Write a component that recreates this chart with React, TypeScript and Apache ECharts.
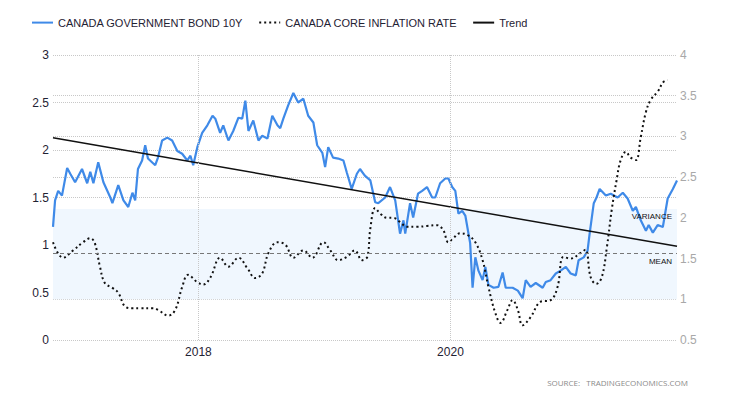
import React, { useEffect, useRef } from "react";
import * as echarts from "echarts";

const bondDates = [
  "2016-11-06", "2016-11-12", "2016-11-21", "2016-12-02", "2016-12-17", "2016-12-26",
  "2017-01-09", "2017-01-29", "2017-02-13", "2017-02-22", "2017-03-03", "2017-03-17",
  "2017-04-01", "2017-04-21", "2017-04-27", "2017-05-14", "2017-05-29", "2017-06-12",
  "2017-06-24", "2017-07-02", "2017-07-10", "2017-07-22", "2017-07-31", "2017-08-08",
  "2017-08-29", "2017-09-06", "2017-09-18", "2017-10-03", "2017-10-17", "2017-11-01",
  "2017-11-15", "2017-11-30", "2017-12-09", "2017-12-17", "2017-12-29", "2018-01-12",
  "2018-01-27", "2018-02-11", "2018-02-19", "2018-03-05", "2018-03-14", "2018-03-29",
  "2018-04-12", "2018-04-27", "2018-05-08", "2018-05-17", "2018-05-26", "2018-06-09",
  "2018-06-24", "2018-07-05", "2018-07-20", "2018-08-03", "2018-08-18", "2018-08-26",
  "2018-09-04", "2018-09-18", "2018-10-03", "2018-10-17", "2018-11-01", "2018-11-15",
  "2018-11-30", "2018-12-11", "2018-12-26", "2019-01-03", "2019-01-12", "2019-01-26",
  "2019-02-10", "2019-02-25", "2019-03-07", "2019-03-21", "2019-04-05", "2019-04-14",
  "2019-04-28", "2019-05-14", "2019-05-28", "2019-06-06", "2019-06-26", "2019-07-10",
  "2019-07-25", "2019-08-08", "2019-08-18", "2019-08-23", "2019-09-06", "2019-09-15",
  "2019-09-29", "2019-10-11", "2019-10-25", "2019-11-09", "2019-11-18", "2019-12-02",
  "2019-12-17", "2019-12-26", "2020-01-06", "2020-01-15", "2020-01-24", "2020-02-04",
  "2020-02-13", "2020-02-27", "2020-03-05", "2020-03-13", "2020-03-22", "2020-04-03",
  "2020-04-11", "2020-04-20", "2020-05-05", "2020-05-19", "2020-05-31", "2020-06-09",
  "2020-06-29", "2020-07-14", "2020-07-28", "2020-08-06", "2020-08-20", "2020-09-04",
  "2020-09-24", "2020-10-03", "2020-10-17", "2020-11-01", "2020-11-15", "2020-11-30",
  "2020-12-14", "2020-12-29", "2021-01-06", "2021-01-21", "2021-02-01", "2021-02-07",
  "2021-02-19", "2021-02-27", "2021-03-08", "2021-03-26", "2021-04-09", "2021-04-29",
  "2021-05-14", "2021-05-28", "2021-06-12", "2021-06-21", "2021-07-05", "2021-07-20",
  "2021-07-28", "2021-08-09", "2021-08-23", "2021-09-07", "2021-09-21", "2021-10-06",
  "2021-10-18",
];
const bondValues = [
  1.19, 1.47, 1.57, 1.52, 1.81, 1.75,
  1.66, 1.80, 1.65, 1.77, 1.65, 1.87,
  1.66, 1.50, 1.44, 1.63, 1.47, 1.40,
  1.55, 1.47, 1.80, 1.89, 2.05, 1.91,
  1.84, 1.92, 2.10, 2.13, 2.10, 1.99,
  1.96, 1.89, 1.94, 1.84, 2.03, 2.18,
  2.26, 2.36, 2.33, 2.18, 2.26, 2.10,
  2.20, 2.34, 2.33, 2.52, 2.20, 2.31,
  2.10, 2.15, 2.12, 2.36, 2.26, 2.23,
  2.33, 2.47, 2.60, 2.50, 2.54, 2.36,
  2.29, 2.05, 1.97, 1.82, 2.03, 1.92,
  1.91, 1.89, 1.76, 1.59, 1.75, 1.80,
  1.73, 1.68, 1.45, 1.44, 1.50, 1.61,
  1.47, 1.12, 1.26, 1.12, 1.44, 1.29,
  1.54, 1.57, 1.61, 1.50, 1.50, 1.65,
  1.70, 1.70, 1.61, 1.57, 1.33, 1.36,
  1.31, 1.02, 0.55, 0.87, 0.73, 0.63,
  0.77, 0.58, 0.55, 0.56, 0.71, 0.55,
  0.55, 0.52, 0.44, 0.63, 0.56, 0.60,
  0.55, 0.61, 0.63, 0.70, 0.73, 0.77,
  0.70, 0.68, 0.84, 0.87, 0.94, 1.12,
  1.44, 1.50, 1.59, 1.52, 1.54, 1.50,
  1.55, 1.49, 1.36, 1.40, 1.26, 1.15,
  1.21, 1.13, 1.21, 1.19, 1.49, 1.59,
  1.68,
];

const inflationDates = [
  "2016-11-06", "2016-12-05", "2017-01-03", "2017-02-01", "2017-02-22", "2017-03-07",
  "2017-03-22", "2017-04-05", "2017-04-27", "2017-05-14", "2017-06-03", "2017-06-24",
  "2017-07-16", "2017-08-23", "2017-09-06", "2017-10-06", "2017-10-26", "2017-11-15",
  "2017-12-02", "2017-12-29", "2018-01-15", "2018-02-05", "2018-03-05", "2018-03-29",
  "2018-04-27", "2018-05-23", "2018-06-15", "2018-07-05", "2018-07-23", "2018-08-18",
  "2018-09-10", "2018-10-03", "2018-11-01", "2018-11-27", "2018-12-29", "2019-01-18",
  "2019-02-10", "2019-03-07", "2019-03-30", "2019-04-20", "2019-05-05", "2019-05-14",
  "2019-05-28", "2019-06-12", "2019-07-02", "2019-07-19", "2019-08-08", "2019-08-28",
  "2019-09-26", "2019-10-25", "2019-11-23", "2019-12-11", "2019-12-26", "2020-01-09",
  "2020-01-29", "2020-02-19", "2020-03-13", "2020-04-03", "2020-04-20", "2020-05-10",
  "2020-05-25", "2020-06-14", "2020-06-29", "2020-07-14", "2020-07-28", "2020-08-20",
  "2020-09-18", "2020-10-17", "2020-11-06", "2020-11-23", "2020-12-14", "2021-01-12",
  "2021-01-26", "2021-02-10", "2021-02-26", "2021-03-14", "2021-03-29", "2021-04-12",
  "2021-04-26", "2021-05-08", "2021-05-23", "2021-06-06", "2021-06-21", "2021-07-05",
  "2021-07-20", "2021-08-03", "2021-08-23", "2021-09-09", "2021-09-21",
];
const inflationValues = [
  1.70, 1.51, 1.60, 1.70, 1.75, 1.69,
  1.40, 1.20, 1.14, 1.08, 0.91, 0.89,
  0.89, 0.89, 0.87, 0.80, 0.87, 1.15,
  1.30, 1.21, 1.18, 1.27, 1.51, 1.40,
  1.51, 1.38, 1.26, 1.32, 1.57, 1.70,
  1.67, 1.51, 1.60, 1.51, 1.70, 1.60,
  1.48, 1.52, 1.60, 1.48, 1.52, 1.87,
  2.12, 2.05, 2.00, 2.00, 1.95, 1.89,
  1.89, 1.90, 1.91, 1.85, 1.70, 1.75,
  1.81, 1.79, 1.70, 1.48, 1.15, 0.83,
  0.71, 0.87, 0.99, 0.87, 0.68, 0.78,
  0.97, 0.99, 1.15, 1.52, 1.50, 1.57,
  1.61, 1.27, 1.19, 1.27, 1.64, 2.10,
  2.46, 2.71, 2.81, 2.74, 2.71, 2.99,
  3.30, 3.45, 3.55, 3.67, 3.69,
];

const trendDates = ["2016-11-06", "2021-10-18"];
const trendValues = [2.13, 0.986];

const inflationMean = 1.556;
const varianceBand = [1.0, 2.11];
const yearMarks = ["2018", "2020"];
const leftTicks = { min: 0, max: 3, step: 0.5 };
const rightTicks = { min: 0.5, max: 4, step: 0.5 };

const FONT = "'Liberation Sans', Arial, sans-serif";

export default function App() {
  const ref = useRef<HTMLDivElement>(null);
  useEffect(() => {
    if (!ref.current) return;
    const chart = echarts.init(ref.current, undefined, { renderer: "svg" });
    const zip = (d: string[], v: number[]) => d.map((x, i) => [x, v[i]]);
    const gridLine = { show: true, lineStyle: { color: "#c8c8c8", type: "dotted", width: 1 } };
    const smallLabel = { show: true, fontSize: 8, color: "#111", fontFamily: FONT };
    chart.setOption({
      animation: false,
      textStyle: { fontFamily: FONT },
      grid: { left: 53, right: 53, top: 55, bottom: 60 },
      legend: {
        left: 26,
        top: 12,
        itemWidth: 21,
        itemHeight: 14,
        itemGap: 15,
        itemStyle: { opacity: 0 },
        textStyle: { fontSize: 11, color: "#1f2233", fontFamily: FONT },
        data: ["CANADA GOVERNMENT BOND 10Y", "CANADA CORE INFLATION RATE", "Trend"],
      },
      xAxis: {
        type: "time",
        min: trendDates[0],
        max: trendDates[1],
        axisLabel: { show: false },
        axisTick: { show: false },
        axisLine: { show: false },
        splitLine: { show: false },
      },
      yAxis: [
        {
          type: "value",
          min: leftTicks.min,
          max: leftTicks.max,
          interval: leftTicks.step,
          axisLabel: { color: "#1f2233", fontSize: 12, margin: 4 },
          axisLine: { show: false },
          axisTick: { show: false },
          splitLine: gridLine,
        },
        {
          type: "value",
          min: rightTicks.min,
          max: rightTicks.max,
          interval: rightTicks.step,
          position: "right",
          axisLabel: { color: "#a8a8a8", fontSize: 12, margin: 3 },
          axisLine: { show: false },
          axisTick: { show: false },
          splitLine: gridLine,
        },
      ],
      series: [
        {
          name: "band",
          type: "line",
          yAxisIndex: 1,
          data: zip(inflationDates, inflationValues),
          symbol: "none",
          lineStyle: { width: 0, opacity: 0 },
          silent: true,
          markArea: {
            silent: true,
            itemStyle: { color: "#f0f7fe" },
            data: [[{ yAxis: varianceBand[0] }, { yAxis: varianceBand[1] }]],
          },
          markLine: {
            silent: true,
            symbol: "none",
            data: [
              {
                yAxis: varianceBand[1],
                lineStyle: { color: "rgba(0,0,0,0)", width: 1, opacity: 1 },
                label: { ...smallLabel, position: "insideEndBottom", distance: [5, 4], formatter: "VARIANCE" },
              },
              {
                yAxis: inflationMean,
                lineStyle: { color: "#777", type: [4, 3], width: 1, opacity: 1 },
                label: { ...smallLabel, position: "insideEndBottom", distance: [5, 4], formatter: "MEAN" },
              },
              ...yearMarks.map((y) => ({
                xAxis: y + "-01-01",
                lineStyle: { color: "#c8c8c8", type: "dotted", width: 1, opacity: 1 },
                label: {
                  show: true,
                  position: "start",
                  distance: 6,
                  fontSize: 12,
                  color: "#1f2233",
                  formatter: y,
                },
              })),
            ],
          },
        },
        {
          name: "CANADA GOVERNMENT BOND 10Y",
          type: "line",
          yAxisIndex: 0,
          data: zip(bondDates, bondValues),
          symbol: "none",
          lineStyle: { color: "#3f8ae8", width: 2.2 },
          itemStyle: { color: "#3f8ae8" },
        },
        {
          name: "CANADA CORE INFLATION RATE",
          type: "line",
          yAxisIndex: 1,
          data: zip(inflationDates, inflationValues),
          symbol: "none",
          smooth: 0.4,
          lineStyle: { color: "#111", width: 2, type: [2, 3] },
          itemStyle: { color: "#111" },
        },
        {
          name: "Trend",
          type: "line",
          yAxisIndex: 0,
          data: zip(trendDates, trendValues),
          symbol: "none",
          lineStyle: { color: "#111", width: 1.5 },
          itemStyle: { color: "#111" },
        },
      ],
      graphic: [
        {
          type: "text",
          right: 42,
          top: 378,
          style: {
            text: "SOURCE:   TRADINGECONOMICS.COM",
            fill: "#8a8a8a",
            font: "8px 'Open Sans', sans-serif",
          },
        },
      ],
    });
    return () => chart.dispose();
  }, []);
  return (
    <div
      ref={ref}
      style={{ position: "fixed", left: 0, top: 0, width: 730, height: 400, background: "#fff" }}
    />
  );
}
